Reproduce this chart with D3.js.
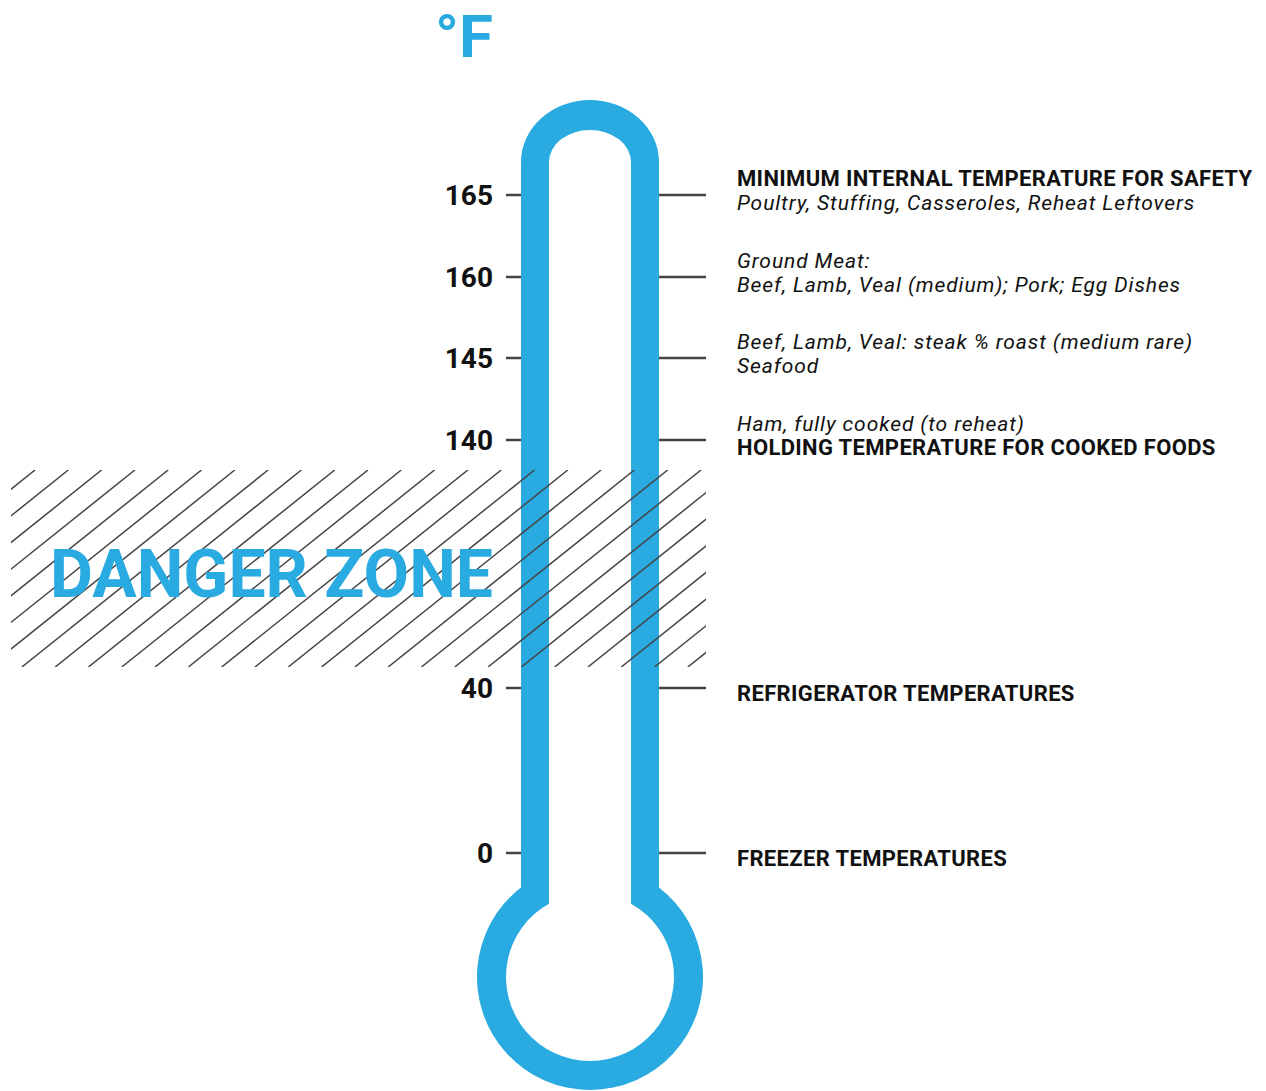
<html>
<head>
<style>
  body { margin: 0; background: #fff; }
  text { font-family: Roboto, "DejaVu Sans", sans-serif; }
  .tick { stroke: #444; stroke-width: 2.5; }
  .hatch { stroke: #444; stroke-width: 1.5; }
</style>
</head>
<body>
<svg id="chart" width="1266" height="1091"></svg>
<script src="https://cdn.jsdelivr.net/npm/d3@7"></script>
<script>
// temperatures marked on the thermometer (°F)
const temps = [165, 160, 145, 140, 40, 0]
// danger zone range (°F)
const dangerZone = [40, 140]
// text next to each tick, bold = heading line
const labels = [
  [{t: "MINIMUM INTERNAL TEMPERATURE FOR SAFETY", b: true}, {t: "Poultry, Stuffing, Casseroles, Reheat Leftovers"}],
  [{t: "Ground Meat:"}, {t: "Beef, Lamb, Veal (medium); Pork; Egg Dishes"}],
  [{t: "Beef, Lamb, Veal: steak % roast (medium rare)"}, {t: "Seafood"}],
  [{t: "Ham, fully cooked (to reheat)"}, {t: "HOLDING TEMPERATURE FOR COOKED FOODS", b: true}],
  [{t: "REFRIGERATOR TEMPERATURES", b: true}],
  [{t: "FREEZER TEMPERATURES", b: true}]
]

const blue = "#29abe2"
let svg = d3.select("#chart")

// scale is not linear on the picture: piecewise
let y = d3.scaleLinear()
  .domain([0, 40, 140, 145, 160, 165])
  .range([853, 688, 440, 358, 277, 195])

// thermometer geometry
let cx = 590
let bulbY = 977

// outline of tube + bulb: half width, top y, shoulder y, bulb radius
function shape(hw, top, shoulder, r) {
  let join = bulbY - Math.sqrt(r * r - hw * hw)
  return "M" + (cx - hw) + "," + shoulder +
    "A" + hw + "," + (shoulder - top) + " 0 0 1 " + (cx + hw) + "," + shoulder +
    "L" + (cx + hw) + "," + join +
    "A" + r + "," + r + " 0 1 1 " + (cx - hw) + "," + join + "Z"
}

svg.append("path").attr("d", shape(69, 100, 162, 113)).attr("fill", blue)
svg.append("path").attr("d", shape(41, 130, 162, 84)).attr("fill", "#fff")

// ticks
let ticks = svg.append("g")
ticks.selectAll(".l").data(temps).join("line")
  .attr("class", "tick")
  .attr("x1", 506).attr("x2", cx - 69)
  .attr("y1", d => y(d)).attr("y2", d => y(d))
ticks.selectAll(".r").data(temps).join("line")
  .attr("class", "tick")
  .attr("x1", cx + 69).attr("x2", 706)
  .attr("y1", d => y(d)).attr("y2", d => y(d))

// tick numbers
svg.append("g").selectAll("text").data(temps).join("text")
  .attr("x", 493)
  .attr("y", d => y(d) + 10)
  .attr("text-anchor", "end")
  .attr("font-size", 28)
  .attr("font-weight", "bold")
  .attr("fill", "#111")
  .text(d => d)

// labels on the right
let lab = svg.append("g").selectAll("g").data(labels).join("g")
lab.each(function (lines, i) {
  let base = y(temps[i])
  let start = lines.length == 2 ? base - 9 : base + 13
  d3.select(this).selectAll("text").data(lines).join("text")
    .attr("x", 737)
    .attr("y", (d, j) => start + j * 24)
    .attr("font-size", d => d.b ? 22 : 21)
    .attr("letter-spacing", d => d.b ? 0.35 : 0.9)
    .attr("font-weight", d => d.b ? "bold" : "normal")
    .attr("font-style", d => d.b ? "normal" : "italic")
    .attr("fill", "#111")
    .text(d => d.t)
})

// danger zone hatching
let hTop = y(dangerZone[1]) + 30
let hBot = y(dangerZone[0]) - 21
let hLeft = 11, hRight = 706
svg.append("clipPath").attr("id", "hclip")
  .append("rect").attr("x", hLeft).attr("y", hTop)
  .attr("width", hRight - hLeft).attr("height", hBot - hTop)
let step = 33.3, slope = 0.8
let run = (hBot - hTop) / slope
svg.append("g").attr("clip-path", "url(#hclip)")
  .selectAll("line").data(d3.range(35 - step * 9, hRight + run + step, step)).join("line")
  .attr("class", "hatch")
  .attr("x1", d => d).attr("y1", hTop)
  .attr("x2", d => d - run).attr("y2", hBot)

svg.append("text")
  .attr("x", 50).attr("y", 597)
  .attr("font-size", 67).attr("font-weight", "bold")
  .attr("fill", blue)
  .attr("textLength", 443).attr("lengthAdjust", "spacingAndGlyphs")
  .text("DANGER ZONE")

svg.append("text")
  .attr("x", 435).attr("y", 57)
  .attr("font-size", 59).attr("font-weight", "bold")
  .attr("fill", blue)
  .attr("textLength", 58).attr("lengthAdjust", "spacingAndGlyphs")
  .text("°F")
</script>
</body>
</html>
